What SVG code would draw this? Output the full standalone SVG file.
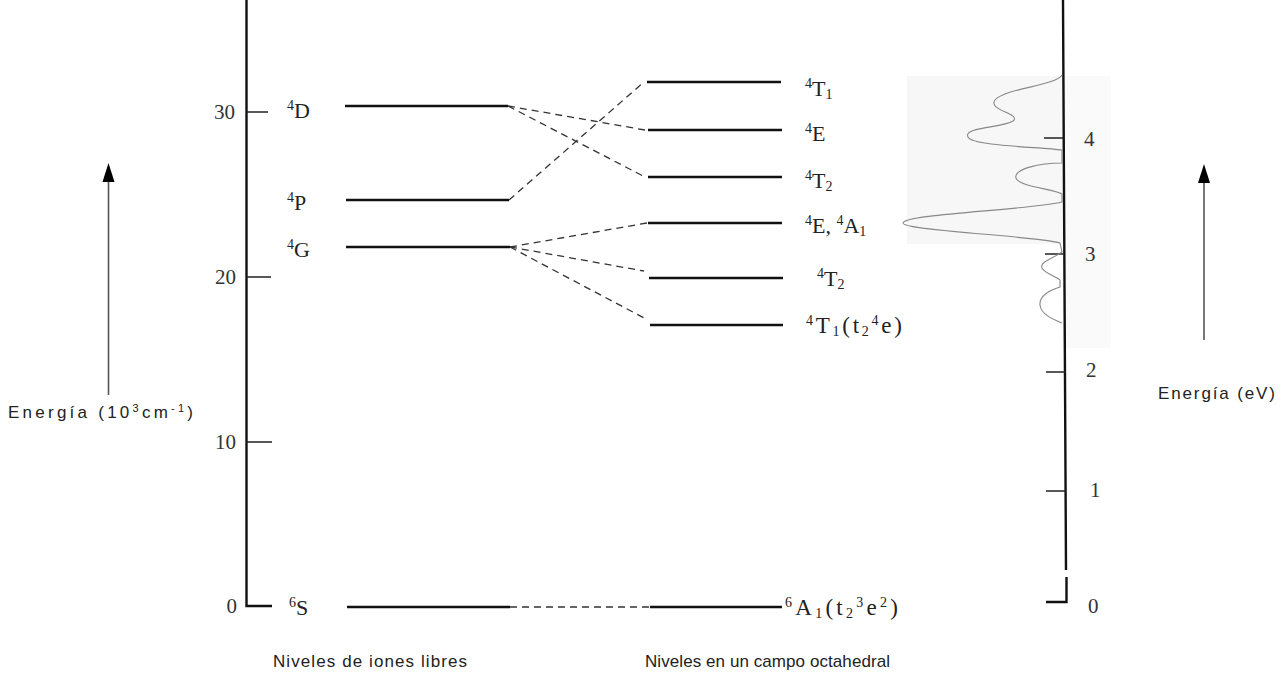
<svg xmlns="http://www.w3.org/2000/svg" width="1287" height="684" viewBox="0 0 1287 684">
  <style>
    .num { font-family: "Liberation Serif", serif; font-size: 21px; fill: #333; }
    .lab { font-family: "Liberation Serif", serif; font-size: 22px; fill: #222; }
    .big { font-size: 23px; }
    .sup { font-size: 14px; }
    .cap { font-family: "Liberation Sans", sans-serif; font-size: 17px; fill: #222; }
    .capsup { font-size: 11px; }
    .axis { stroke: #111; stroke-width: 2.4; fill: none; }
    .tick { stroke: #222; stroke-width: 1.6; fill: none; }
    .level { stroke: #111; stroke-width: 2.3; fill: none; }
    .dash { stroke: #333; stroke-width: 1.3; stroke-dasharray: 7 5; fill: none; }
    .earrow { stroke: #555; stroke-width: 1.6; fill: none; }
    .ehead { fill: #000; }
  </style>
  <rect width="1287" height="684" fill="#fff"/>

  <!-- shaded region behind the absorption spectrum -->
  <rect x="907" y="76" width="156" height="168" fill="#f7f7f7"/>
  <rect x="1063" y="76" width="48" height="272" fill="#fafafa"/>

  <!-- left energy axis (10^3 cm^-1) -->
  <g id="axis-left">
    <path class="axis" d="M246.5,0 V606 H272"/>
    <path class="tick" d="M246,112 H268 M246,277 H271 M246,442 H272"/>
    <text class="num" x="235" y="119" text-anchor="end">30</text>
    <text class="num" x="236" y="284" text-anchor="end">20</text>
    <text class="num" x="236" y="449" text-anchor="end">10</text>
    <text class="num" x="237" y="613" text-anchor="end">0</text>
  </g>

  <!-- right energy axis (eV) -->
  <g id="axis-right">
    <path class="axis" d="M1063,0 L1066,570 M1066.5,577 V602 H1046"/>
    <path class="tick" d="M1044,138 H1063 M1045,254 H1063 M1046,372 H1066 M1046,491 H1066"/>
    <text class="num" x="1084" y="146">4</text>
    <text class="num" x="1085" y="261">3</text>
    <text class="num" x="1086" y="377">2</text>
    <text class="num" x="1090" y="497">1</text>
    <text class="num" x="1088" y="613">0</text>
  </g>

  <!-- absorption spectrum -->
  <g id="spectrum">
    <path fill="none" stroke="#888" stroke-width="1.1" d="M1062,75 C1055,86 1006,88 995,100 C987,110 1022,114 1013,121 C1002,128 963,127 968,137 C972,146 1040,147 1062,150 L1062,163 C1040,163 1013,169 1016,178 C1019,187 1055,189 1062,194 L1062,202 C1030,210 903,214 903,223 C903,231 1040,236 1060,243 L1062,252 C1054,258 1039,262 1042,268 C1045,274 1058,277 1060,280 L1060,287 C1050,290 1039,296 1040,305 C1041,315 1055,320 1062,323"/>
  </g>

  <!-- free-ion levels -->
  <g id="free-4D">
    <path class="level" d="M345,106 H508"/>
    <text class="lab" x="287" y="118"><tspan class="sup" dy="-8">4</tspan><tspan dy="8">D</tspan></text>
  </g>
  <g id="free-4P">
    <path class="level" d="M346,200 H509"/>
    <text class="lab" x="287" y="210"><tspan class="sup" dy="-8">4</tspan><tspan dy="8">P</tspan></text>
  </g>
  <g id="free-4G">
    <path class="level" d="M346,247 H510"/>
    <text class="lab" x="287" y="257"><tspan class="sup" dy="-8">4</tspan><tspan dy="8">G</tspan></text>
  </g>
  <g id="free-6S">
    <path class="level" d="M347,607 H510"/>
    <text class="lab" x="289" y="615"><tspan class="sup" dy="-8">6</tspan><tspan dy="8">S</tspan></text>
  </g>

  <!-- octahedral-field levels -->
  <g id="oct-4T1-top">
    <path class="level" d="M647,82 H781"/>
    <text class="lab" x="805" y="96"><tspan class="sup" dy="-8">4</tspan><tspan dy="8">T</tspan><tspan class="sup" dy="3">1</tspan></text>
  </g>
  <g id="oct-4E">
    <path class="level" d="M648,130 H782"/>
    <text class="lab" x="805" y="141"><tspan class="sup" dy="-8">4</tspan><tspan dy="8">E</tspan></text>
  </g>
  <g id="oct-4T2-top">
    <path class="level" d="M648,177 H782"/>
    <text class="lab" x="805" y="188"><tspan class="sup" dy="-8">4</tspan><tspan dy="8">T</tspan><tspan class="sup" dy="3">2</tspan></text>
  </g>
  <g id="oct-4E-4A1">
    <path class="level" d="M648,223 H782"/>
    <text class="lab" x="805" y="233"><tspan class="sup" dy="-8">4</tspan><tspan dy="8">E, </tspan><tspan class="sup" dy="-8">4</tspan><tspan dy="8">A</tspan><tspan class="sup" dy="3">1</tspan></text>
  </g>
  <g id="oct-4T2">
    <path class="level" d="M649,278 H783"/>
    <text class="lab" x="817" y="286"><tspan class="sup" dy="-8">4</tspan><tspan dy="8">T</tspan><tspan class="sup" dy="3">2</tspan></text>
  </g>
  <g id="oct-4T1">
    <path class="level" d="M650,325 H783"/>
    <text class="lab big" x="806" y="333" textLength="96" lengthAdjust="spacing"><tspan class="sup" dy="-8">4</tspan><tspan dy="8">T</tspan><tspan class="sup" dy="3">1</tspan><tspan dy="-3">(t</tspan><tspan class="sup" dy="3">2</tspan><tspan class="sup" dy="-11">4</tspan><tspan dy="8">e)</tspan></text>
  </g>
  <g id="oct-6A1">
    <path class="level" d="M650,607 H782"/>
    <text class="lab big" x="785" y="615" textLength="113" lengthAdjust="spacing"><tspan class="sup" dy="-8">6</tspan><tspan dy="8">A</tspan><tspan class="sup" dy="3">1</tspan><tspan dy="-3">(t</tspan><tspan class="sup" dy="3">2</tspan><tspan class="sup" dy="-11">3</tspan><tspan dy="8">e</tspan><tspan class="sup" dy="-8">2</tspan><tspan dy="8">)</tspan></text>
  </g>

  <!-- correlation lines between free-ion and octahedral levels -->
  <g id="connectors">
    <path class="dash" d="M508,106 L645,130"/>
    <path class="dash" d="M508,106 L645,177"/>
    <path class="dash" d="M509,200 L644,82"/>
    <path class="dash" d="M510,247 L647,223"/>
    <path class="dash" d="M510,247 L644,271"/>
    <path class="dash" d="M510,247 L646,319"/>
    <path class="dash" d="M510,607 L650,607"/>
  </g>

  <!-- energy direction arrows -->
  <g id="arrow-left">
    <path class="earrow" d="M108.5,395 V180"/>
    <polygon class="ehead" points="108.5,163 102.5,182 114.5,182"/>
    <text class="cap" x="8" y="418" textLength="185" lengthAdjust="spacing">Energía (10<tspan class="capsup" dy="-6">3</tspan><tspan dy="6">cm</tspan><tspan class="capsup" dy="-6">-1</tspan><tspan dy="6">)</tspan></text>
  </g>
  <g id="arrow-right">
    <path class="earrow" d="M1204,340 V180"/>
    <polygon class="ehead" points="1204,164 1198,183 1210,183"/>
    <text class="cap" x="1158" y="399" textLength="117" lengthAdjust="spacing">Energía (eV)</text>
  </g>

  <!-- column captions -->
  <text class="cap" x="273" y="667" textLength="194" lengthAdjust="spacing">Niveles de iones libres</text>
  <text class="cap" x="645" y="667" textLength="245" lengthAdjust="spacing">Niveles en un campo octahedral</text>
</svg>
